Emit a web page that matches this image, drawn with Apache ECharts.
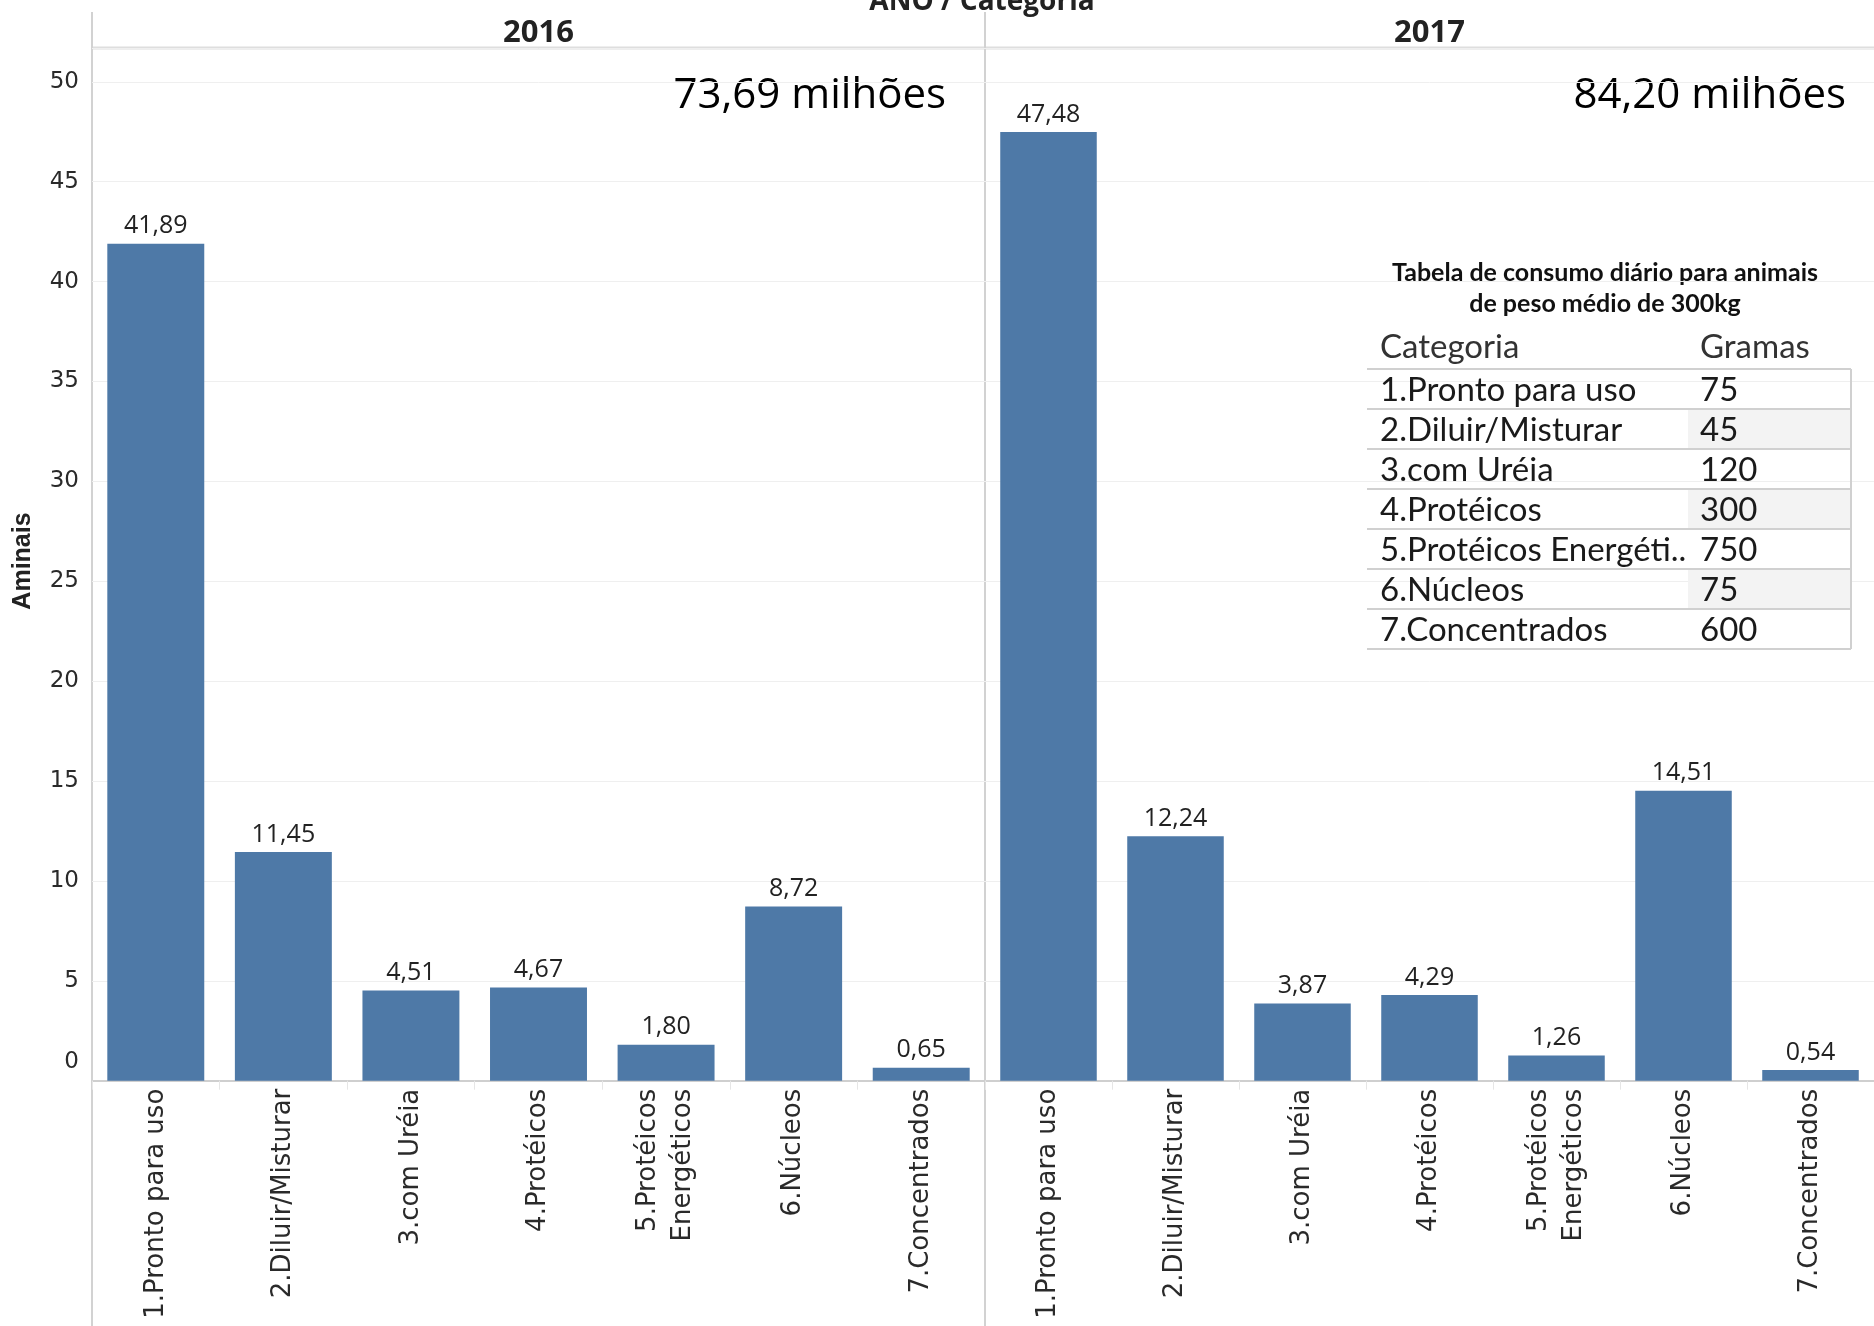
<!DOCTYPE html>
<html><head><meta charset="utf-8">
<script src="https://cdn.jsdelivr.net/npm/echarts@6/dist/echarts.min.js"></script>
<style>html,body{margin:0;padding:0;background:#fff}#c{width:1874px;height:1326px}</style>
</head><body><div id="c"></div><script>
const categories = ['1.Pronto para uso','2.Diluir/Misturar','3.com Uréia','4.Protéicos','5.Protéicos\nEnergéticos','6.Núcleos','7.Concentrados'];
const years = ['2016','2017'];
const values2016 = [41.89, 11.45, 4.51, 4.67, 1.80, 8.72, 0.65];
const values2017 = [47.48, 12.24, 3.87, 4.29, 1.26, 14.51, 0.54];
const totals = ['73,69 milhões','84,20 milhões'];
const yMax = 51.69;
const yInterval = 5;
const headerTitle = 'ANO / Categoria';
const yTitle = 'Aminais';
const tableTitle = ['Tabela de consumo diário para animais','de peso médio de 300kg'];
const tableHeader = ['Categoria','Gramas'];
const tableCategories = ['1.Pronto para uso','2.Diluir/Misturar','3.com Uréia','4.Protéicos','5.Protéicos Energéti..','6.Núcleos','7.Concentrados'];
const tableGrams = ['75','45','120','300','750','75','600'];

const chart = echarts.init(document.getElementById('c'), null, {renderer:'canvas'});
const BAR = '#4e79a7';
const fmt = v => v.toFixed(2).replace('.', ',');
const gridTop = 48, gridBottom = 245.3;
const panels = [{left:92, width:893},{left:985, width:889}];

function xAxis(i){
  return {
    type:'category', gridIndex:i, data:categories,
    axisLine:{show:true, lineStyle:{color:'#cfcfcf', width:2}},
    axisTick:{show:true, length:9, interval:0, lineStyle:{color:'#e6e6e6', width:1}},
    axisLabel:{rotate:90, interval:0, margin:8, fontSize:26, lineHeight:35,
      fontFamily:'DejaVu Sans', color:'#2a2a2a'}
  };
}
function yAxis(i){
  return {
    type:'value', gridIndex:i, min:0, max:yMax, interval:yInterval,
    axisLine:{show:false}, axisTick:{show:false},
    splitLine:{show:true, lineStyle:{color:'#efefef', width:1}},
    axisLabel:{show:i===0, margin:13, fontSize:23, fontFamily:'DejaVu Sans', color:'#2a2a2a',
      formatter: v => (Math.abs(v % 5) < 1e-9 && v <= 50) ? (v === 0 ? '{z|0}' : String(v)) : '',
      rich:{z:{fontSize:23, fontFamily:'DejaVu Sans', color:'#2a2a2a', padding:[0,0,38,0]}}}
  };
}
function series(i, data){
  return {
    type:'bar', xAxisIndex:i, yAxisIndex:i, data:data, barCategoryGap:'24%',
    itemStyle:{color:BAR},
    label:{show:true, position:'top', distance:5, fontSize:25, fontFamily:'Open Sans', color:'#222',
      formatter: p => fmt(p.value)}
  };
}

const graphics = [];
graphics.push({type:'text', x:982, y:2, style:{text:headerTitle, font:'bold 28px "Open Sans"', fill:'#222', align:'center', verticalAlign:'middle'}});
graphics.push({type:'rect', shape:{x:92, y:46.5, width:1782, height:3}, style:{fill:'#dedede'}});
graphics.push({type:'line', shape:{x1:92, y1:12, x2:92, y2:1326}, style:{stroke:'#d2d2d2', lineWidth:2}});
graphics.push({type:'line', shape:{x1:985, y1:12, x2:985, y2:1326}, style:{stroke:'#d2d2d2', lineWidth:2}});
years.forEach((y, i) => {
  const p = panels[i];
  graphics.push({type:'text', x:p.left + p.width/2, y:33, style:{text:y, font:'bold 31px "Open Sans"', fill:'#222', align:'center', verticalAlign:'middle'}});
  graphics.push({type:'text', x:p.left + p.width - 39 + (i===1?11:0), y:96, style:{text:totals[i], font:'42px "Open Sans"', fill:'#000', align:'right', verticalAlign:'middle'}});
});
graphics.push({type:'text', x:23, y:561, rotation:Math.PI/2, style:{text:yTitle, font:'bold 25px "Liberation Sans"', fill:'#222', align:'center', verticalAlign:'middle'}});

// table
const tX0 = 1367, tX1 = 1851, tColX = 1688, rowTop = 369, rowH = 40;
const tbl = [];
tableTitle.forEach((t, i) => {
  tbl.push({type:'text', x:1605, y:273 + i*31, style:{text:t, font:'bold 25px Lato', fill:'#111', align:'center', verticalAlign:'middle'}});
});
tbl.push({type:'text', x:1380, y:347, style:{text:tableHeader[0], font:'33px Lato', fill:'#333', align:'left', verticalAlign:'middle'}});
tbl.push({type:'text', x:1700, y:347, style:{text:tableHeader[1], font:'33px Lato', fill:'#333', align:'left', verticalAlign:'middle'}});
tableCategories.forEach((c, i) => {
  const top = rowTop + i*rowH;
  if (i % 2 === 1) tbl.push({type:'rect', z:1, shape:{x:tColX, y:top+1, width:tX1-tColX, height:rowH-2}, style:{fill:'#f3f3f3'}});
});
for (let i = 0; i <= tableCategories.length; i++) {
  const y = rowTop + i*rowH;
  tbl.push({type:'line', z:2, shape:{x1:tX0, y1:y, x2:tX1, y2:y}, style:{stroke:'#d0d0d0', lineWidth:2}});
}
tbl.push({type:'line', z:2, shape:{x1:tX1, y1:rowTop, x2:tX1, y2:rowTop + rowH*tableCategories.length}, style:{stroke:'#d0d0d0', lineWidth:2}});
tableCategories.forEach((c, i) => {
  const top = rowTop + i*rowH;
  tbl.push({type:'text', z:3, x:1380, y:top + rowH/2 + 1, style:{text:c, font:'33px Lato', fill:'#1a1a1a', align:'left', verticalAlign:'middle'}});
  tbl.push({type:'text', z:3, x:1700, y:top + rowH/2 + 1, style:{text:tableGrams[i], font:'33px Lato', fill:'#1a1a1a', align:'left', verticalAlign:'middle'}});
});
graphics.push({type:'group', z:100, children:tbl});

chart.setOption({
  animation:false,
  backgroundColor:'#fff',
  grid:panels.map(p => ({left:p.left, width:p.width, top:gridTop, bottom:gridBottom, containLabel:false})),
  xAxis:[xAxis(0), xAxis(1)],
  yAxis:[yAxis(0), yAxis(1)],
  series:[series(0, values2016), series(1, values2017)],
  graphic:graphics
});
</script></body></html>
